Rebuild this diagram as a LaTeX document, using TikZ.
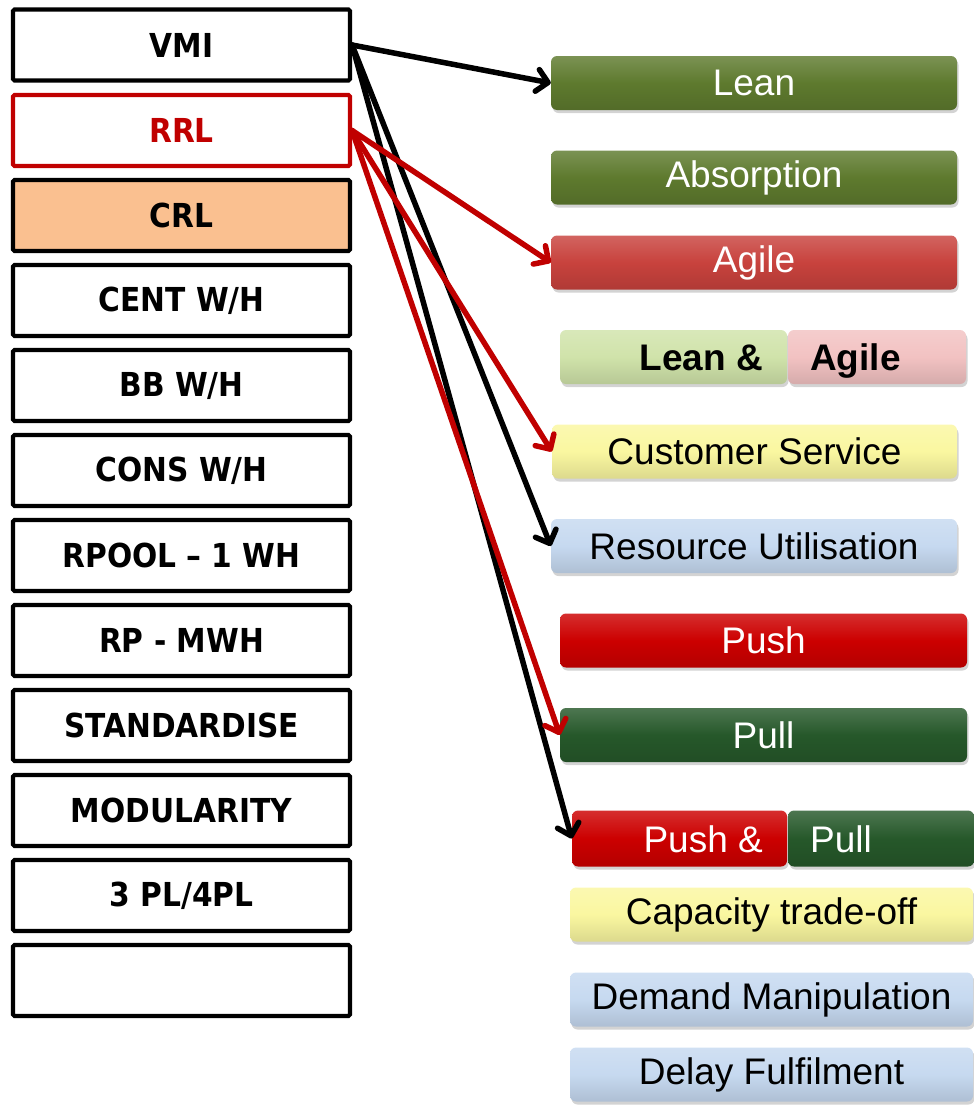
\documentclass[tikz,border=0pt]{standalone}
\usepackage{fontspec}
\setmainfont{Liberation Sans}
\newfontfamily\boxfont{DejaVu Sans Condensed}
\usetikzlibrary{arrows.meta,shadows}

\definecolor{olive}{HTML}{5E7A2E}
\definecolor{agilered}{HTML}{C8423D}
\definecolor{lightgreen}{HTML}{D0E3AA}
\definecolor{lightpink}{HTML}{F2C2C2}
\definecolor{paleyellow}{HTML}{FAF7A0}
\definecolor{paleblue}{HTML}{C6D9F0}
\definecolor{pushred}{HTML}{CC0000}
\definecolor{pullgreen}{HTML}{26582A}
\definecolor{rrlred}{HTML}{C00000}
\definecolor{crlfill}{HTML}{FAC090}

\tikzset{
  lbox/.style={draw=black, line width=4.2pt, fill=white, rounded corners=1.5pt,
    minimum width=337pt, minimum height=71pt, inner sep=0pt,
    font=\boxfont\bfseries\fontsize{33}{33}\selectfont},
  gloss/.style={rounded corners=6pt, minimum height=54pt, inner sep=0pt,
    font=\fontsize{37}{37}\selectfont,
    drop shadow={opacity=0.35, shadow xshift=1.5pt, shadow yshift=-3pt},
    top color=#1!82!white, bottom color=#1!88!black, middle color=#1},
  linkarrow/.style={line width=5.5pt, line cap=round,
    -{Straight Barb[length=11pt,width=22pt,line join=round,line cap=round]}},
  bigbold/.style={font=\bfseries\fontsize{37}{37}\selectfont, inner sep=0pt},
  splittext/.style={font=\fontsize{37}{37}\selectfont, inner sep=0pt}
}

\begin{document}
\begin{tikzpicture}[x=1pt, y=-1pt]
\useasboundingbox (0,0) rectangle (974,1106);

% left column of strategies
\node[lbox] (vmi)   at (181.5,45)   {VMI};
\node[lbox, draw=rrlred, text=rrlred] (rrl) at (181.5,130.5) {RRL};
\node[lbox, fill=crlfill] (crl) at (181.5,215.5) {CRL};
\node[lbox] (cent)  at (181.5,300.5) {CENT W/H};
\node[lbox] (bb)    at (181.5,385.5) {BB W/H};
\node[lbox] (cons)  at (181.5,470.5) {CONS W/H};
\node[lbox] (rpool) at (181.5,555.5) {RPOOL – 1 WH};
\node[lbox] (rp)    at (181.5,640.5) {RP - MWH};
\node[lbox] (std)   at (181.5,725.5) {STANDARDISE};
\node[lbox] (mod)   at (181.5,810.5) {MODULARITY};
\node[lbox] (tpl)   at (181.5,895.5) {3 PL/4PL};
\node[lbox] (blank) at (181.5,980.5) {};

% right column of outcomes
\node[gloss=olive, text=white, minimum width=406pt] (lean) at (754,83) {Lean};
\node[gloss=olive, text=white, minimum width=406pt] (absorb) at (754,177.5) {Absorption};
\node[gloss=agilered, text=white, minimum width=406pt] (agile) at (754,262.5) {Agile};

\node[gloss=lightgreen, minimum width=227pt] (leanL) at (673.5,357) {};
\node[gloss=lightpink, minimum width=178pt] (agileR) at (877,357) {};
\node[bigbold, anchor=base east] (leanT) at (763,370) {Lean \&};
\node[bigbold, anchor=base west] (agileT) at (810,370) {Agile};

\node[gloss=paleyellow, minimum width=405pt] (cust) at (754.5,451.5) {Customer Service};
\node[gloss=paleblue, minimum width=406pt] (resu) at (754,546) {Resource Utilisation};
\node[gloss=pushred, text=white, minimum width=407pt] (push) at (763.5,640.5) {Push};
\node[gloss=pullgreen, text=white, minimum width=407pt] (pull) at (763.5,735) {Pull};

\node[gloss=pushred, minimum width=215pt, minimum height=56pt] (pushL) at (679.5,838.5) {};
\node[gloss=pullgreen, minimum width=186pt, minimum height=56pt] (pullR) at (881,838.5) {};
\node[splittext, text=white, anchor=base east] (pushT) at (763,852) {Push \&};
\node[splittext, text=white, anchor=base west] (pullT) at (810,852) {Pull};

\node[gloss=paleyellow, minimum width=403pt] (cap) at (771.5,914.5) {Capacity trade-off};
\node[gloss=paleblue, minimum width=403pt] (dem) at (771.5,999.5) {Demand Manipulation};
\node[gloss=paleblue, minimum width=403pt] (delay) at (771.5,1074.5) {Delay Fulfilment};

% links from VMI
\draw[linkarrow, draw=black] (vmi.east) -- (lean.west);
\draw[linkarrow, draw=black] (vmi.east) -- (resu.west);
\draw[linkarrow, draw=black] (vmi.east) -- (pushL.west);

% links from RRL
\draw[linkarrow, draw=rrlred] (rrl.east) -- (agile.west);
\draw[linkarrow, draw=rrlred] (rrl.east) -- (cust.west);
\draw[linkarrow, draw=rrlred] (rrl.east) -- (pull.west);
\end{tikzpicture}
\end{document}
